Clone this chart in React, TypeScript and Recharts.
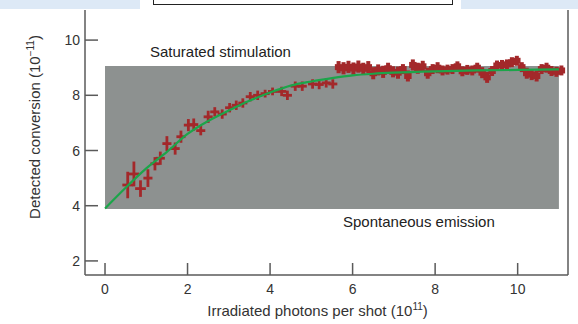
import { ComposedChart, Scatter, Line, XAxis, YAxis, ErrorBar, ReferenceArea, ReferenceLine, Label } from 'recharts';

// measured points on the rising part: photons (1e11), conversion (1e-11) and their errors
const risePhotons = [0.55, 0.7, 0.86, 1.04, 1.21, 1.34, 1.5, 1.7, 1.84, 2.02, 2.15, 2.32, 2.5, 2.66, 2.84, 3.02, 3.18, 3.34, 3.52, 3.7, 3.88, 4.06, 4.28, 4.42, 4.61, 4.78, 5.03, 5.19, 5.36, 5.52];
const riseConversion = [4.75, 5.15, 4.62, 5.0, 5.52, 5.72, 6.25, 6.07, 6.5, 6.92, 6.94, 6.72, 7.22, 7.4, 7.32, 7.55, 7.64, 7.72, 7.95, 8.0, 8.06, 8.14, 8.14, 8.0, 8.33, 8.33, 8.41, 8.39, 8.45, 8.41];
const risePhotonErr = [0.13, 0.13, 0.13, 0.11, 0.11, 0.11, 0.11, 0.11, 0.11, 0.11, 0.11, 0.11, 0.11, 0.11, 0.11, 0.11, 0.11, 0.11, 0.11, 0.11, 0.11, 0.11, 0.11, 0.11, 0.11, 0.11, 0.11, 0.11, 0.11, 0.11];
const riseConversionErr = [0.48, 0.45, 0.3, 0.32, 0.24, 0.24, 0.27, 0.22, 0.22, 0.22, 0.22, 0.17, 0.22, 0.17, 0.17, 0.17, 0.17, 0.17, 0.17, 0.17, 0.14, 0.14, 0.17, 0.17, 0.17, 0.17, 0.17, 0.17, 0.17, 0.17];

// densely sampled plateau
const platPhotons = [5.66, 5.78, 5.9, 6.02, 6.14, 6.26, 6.38, 6.5, 6.62, 6.74, 6.86, 6.98, 7.1, 7.22, 7.34, 7.46, 7.58, 7.7, 7.82, 7.94, 8.06, 8.18, 8.3, 8.42, 8.54, 8.66, 8.78, 8.9, 9.02, 9.14, 9.26, 9.38, 9.5, 9.62, 9.74, 9.86, 9.98, 10.1, 10.22, 10.34, 10.46, 10.58, 10.7, 10.82, 10.94, 11.06];
const platConversion = [9.02, 8.98, 9.03, 8.97, 9.04, 8.96, 9.02, 8.8, 8.92, 8.85, 8.98, 8.85, 8.82, 8.95, 8.7, 9.1, 8.98, 9.05, 8.8, 8.95, 9.0, 8.9, 8.93, 8.95, 9.05, 8.87, 8.92, 8.9, 9.0, 8.82, 8.65, 8.88, 9.08, 9.1, 9.12, 9.2, 9.25, 9.02, 8.8, 8.75, 8.7, 8.95, 9.0, 8.88, 8.85, 8.9];
const platConversionErr = [0.22, 0.22, 0.22, 0.22, 0.22, 0.22, 0.22, 0.22, 0.2, 0.22, 0.2, 0.2, 0.22, 0.18, 0.2, 0.2, 0.2, 0.2, 0.2, 0.18, 0.2, 0.18, 0.18, 0.18, 0.18, 0.18, 0.18, 0.18, 0.18, 0.2, 0.2, 0.18, 0.18, 0.18, 0.18, 0.18, 0.18, 0.18, 0.2, 0.2, 0.2, 0.18, 0.18, 0.18, 0.18, 0.18];
const PLAT_PHOTON_ERR = 0.09;

// fitted curve
const fitPhotons = [0, 0.5, 1, 1.5, 2, 2.5, 3, 3.5, 4, 4.5, 5, 5.5, 6, 6.5, 7, 8, 9, 10, 11];
const fitConversion = [3.9, 4.65, 5.35, 5.95, 6.6, 7.07, 7.45, 7.8, 8.1, 8.35, 8.5, 8.62, 8.72, 8.78, 8.82, 8.87, 8.9, 8.92, 8.94];

// shaded band between the two limits
const SPONTANEOUS = 3.88;
const SATURATED = 9.06;
const BAND_X = [0, 11];

const xTicks = [0, 2, 4, 6, 8, 10];
const yTicks = [2, 4, 6, 8, 10];
const X_DOMAIN = [-0.485, 11.22];
const Y_DOMAIN = [1.49, 11.09];

const riseData = risePhotons.map((x, i) => ({ x, y: riseConversion[i], ex: risePhotonErr[i], ey: riseConversionErr[i] }));
const platData = platPhotons.map((x, i) => ({ x, y: platConversion[i], ex: PLAT_PHOTON_ERR, ey: platConversionErr[i] }));
const fitData = fitPhotons.map((x, i) => ({ x, fit: fitConversion[i] }));

const FONT = '"Liberation Sans", Arial, Helvetica, sans-serif';
const AXIS = '#5a5a5a';
const RED = '#a3282a';
const GREEN = '#1ca54a';
const GRAY = '#8d9190';

const XTick = ({ x, y, payload }: any) => (
  <g>
    <line x1={x} y1={y} x2={x} y2={y - 12} stroke={AXIS} strokeWidth={1.5} />
    <text x={x} y={y + 19} textAnchor="middle" fontSize={14} fill="#333" fontFamily={FONT}>{payload.value}</text>
  </g>
);

const YTick = ({ x, y, payload }: any) => (
  <g>
    <line x1={x} y1={y} x2={x + 13} y2={y} stroke={AXIS} strokeWidth={1.5} />
    <text x={x - 5} y={y + 5} textAnchor="end" fontSize={14} fill="#333" fontFamily={FONT}>{payload.value}</text>
  </g>
);

const XTitle = ({ viewBox }: any) => (
  <text x={viewBox.x + viewBox.width / 2 - 9} y={viewBox.y + 41} textAnchor="middle" fontSize={15} fill="#333" fontFamily={FONT}>
    Irradiated photons per shot (10<tspan dy={-6} fontSize={10}>11</tspan><tspan dy={6}>)</tspan>
  </text>
);

const YTitle = () => {
  const cx = 40;
  const cy = 127;
  return (
    <text x={cx} y={cy} transform={`rotate(-90 ${cx} ${cy})`} textAnchor="middle" fontSize={15} fill="#333" fontFamily={FONT}>
      Detected conversion (10<tspan dy={-6} fontSize={10}>−11</tspan><tspan dy={6}>)</tspan>
    </text>
  );
};

const BandLabels = ({ viewBox }: any) => (
  <g fontFamily={FONT} fontSize={15} fill="#222">
    <text x={viewBox.x + 45} y={viewBox.y - 9}>Saturated stimulation</text>
    <text x={viewBox.x + 238} y={viewBox.y + viewBox.height + 18}>Spontaneous emission</text>
  </g>
);

export default function App() {
  return (
    <div style={{ position: 'absolute', left: 0, top: 0, width: 578, height: 324, background: '#fff' }}>
      <ComposedChart width={578} height={324} margin={{ top: 10, right: 10, left: 0, bottom: 0 }}>
        <XAxis
          type="number"
          dataKey="x"
          domain={X_DOMAIN}
          allowDataOverflow
          ticks={xTicks}
          tick={<XTick />}
          tickSize={0}
          tickMargin={0}
          tickLine={false}
          height={49}
          axisLine={{ stroke: AXIS, strokeWidth: 1.5 }}
          label={<Label content={<XTitle />} />}
        />
        <YAxis
          type="number"
          domain={Y_DOMAIN}
          allowDataOverflow
          ticks={yTicks}
          tick={<YTick />}
          tickSize={0}
          tickMargin={0}
          tickLine={false}
          width={85}
          axisLine={{ stroke: AXIS, strokeWidth: 1.5 }}
          label={<Label content={<YTitle />} />}
        />
        <ReferenceArea x1={BAND_X[0]} x2={BAND_X[1]} y1={SPONTANEOUS} y2={SATURATED} fill={GRAY} fillOpacity={1} stroke="none">
          <Label content={<BandLabels />} />
        </ReferenceArea>
        <ReferenceLine x={X_DOMAIN[1]} stroke={AXIS} strokeWidth={1.5} />
        <Scatter data={riseData} dataKey="y" shape={() => <g />} isAnimationActive={false}>
          <ErrorBar dataKey="ey" direction="y" width={0} stroke={RED} strokeWidth={2.8} />
          <ErrorBar dataKey="ex" direction="x" width={0} stroke={RED} strokeWidth={2.8} />
        </Scatter>
        <Scatter data={platData} dataKey="y" shape={() => <g />} isAnimationActive={false}>
          <ErrorBar dataKey="ey" direction="y" width={0} stroke={RED} strokeWidth={4} />
          <ErrorBar dataKey="ex" direction="x" width={0} stroke={RED} strokeWidth={6} />
        </Scatter>
        <Line data={fitData} dataKey="fit" type="monotone" stroke={GREEN} strokeWidth={2.2} dot={false} isAnimationActive={false} />
      </ComposedChart>
      <div style={{ position: 'absolute', left: 0, top: 0, width: 140, height: 9, background: '#dde9f6' }} />
      <div style={{ position: 'absolute', left: 461, top: 0, width: 117, height: 9, background: '#dde9f6' }} />
      <div style={{ position: 'absolute', left: 153, top: -10, width: 298, height: 13, background: '#fff', border: '1.5px solid #222' }} />
    </div>
  );
}
